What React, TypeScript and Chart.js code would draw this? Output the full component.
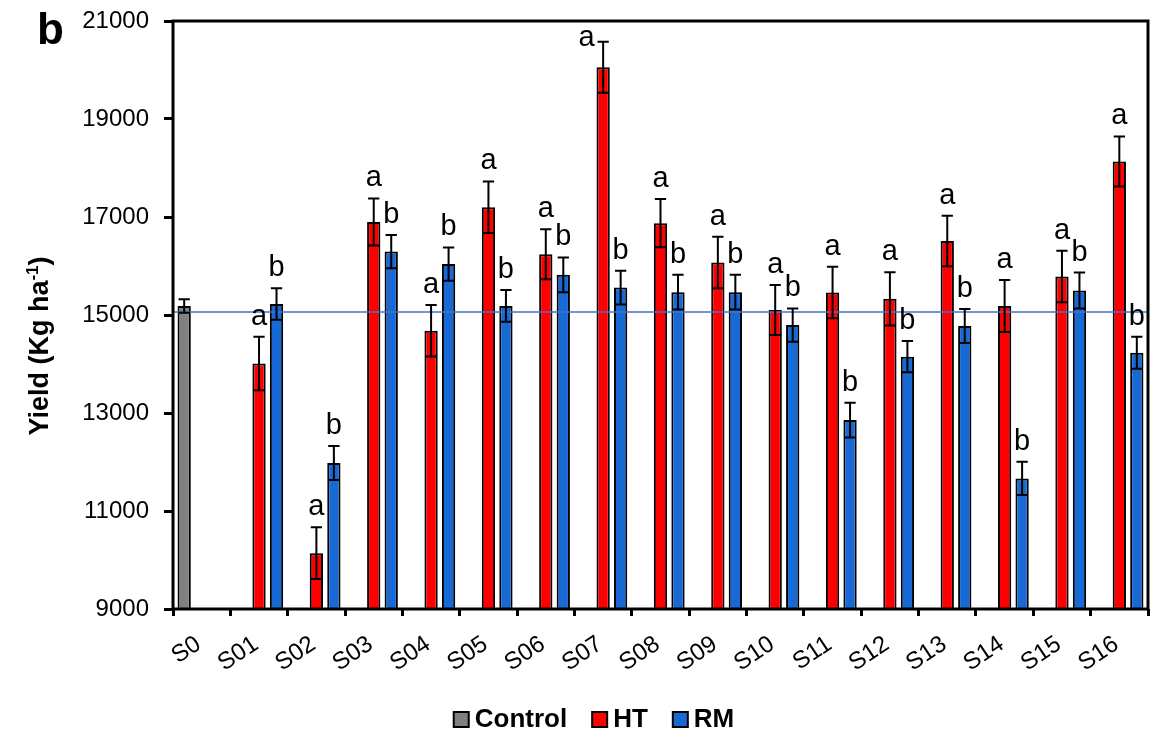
import React, { useEffect, useRef } from 'react';
import { Chart, registerables } from 'chart.js';

Chart.register(...registerables);

const FONT = '"Liberation Sans", Arial, sans-serif';

const categories = ['S0', 'S01', 'S02', 'S03', 'S04', 'S05', 'S06', 'S07', 'S08', 'S09', 'S10', 'S11', 'S12', 'S13', 'S14', 'S15', 'S16'];

const controlValues = [15185, null, null, null, null, null, null, null, null, null, null, null, null, null, null, null, null];
const controlErrors = [137, null, null, null, null, null, null, null, null, null, null, null, null, null, null, null, null];

const htValues = [null, 14010, 10140, 16900, 14680, 17200, 16240, 20055, 16875, 16070, 15100, 15460, 15330, 16510, 15185, 15785, 18135];
const htErrors = [null, 545, 530, 480, 525, 525, 510, 520, 490, 525, 510, 525, 545, 515, 530, 525, 510];
const htLetters = [null, 'a', 'a', 'a', 'a', 'a', 'a', 'a', 'a', 'a', 'a', 'a', 'a', 'a', 'a', 'a', 'a'];

const rmValues = [null, 15225, 11980, 16295, 16040, 15185, 15820, 15560, 15465, 15465, 14795, 12855, 14150, 14775, 11665, 15500, 14230];
const rmErrors = [null, 320, 345, 340, 340, 325, 355, 345, 355, 355, 340, 355, 320, 345, 340, 365, 325];
const rmLetters = [null, 'b', 'b', 'b', 'b', 'b', 'b', 'b', 'b', 'b', 'b', 'b', 'b', 'b', 'b', 'b', 'b'];

const referenceValue = 15060;

const yMin = 9000;
const yMax = 21000;
const yStep = 2000;

const seriesNames = ['Control', 'HT', 'RM'];
const seriesColors = ['#808080', '#FF0000', '#1769D6'];

const framePlugin = {
  id: 'frameAndExtras',
  afterDatasetsDraw(chart: any) {
    const { ctx, chartArea, scales } = chart;
    const y = scales.y;
    ctx.save();
    // reference line
    const ry = y.getPixelForValue(referenceValue);
    ctx.strokeStyle = '#4472C4';
    ctx.lineWidth = 1.5;
    ctx.beginPath();
    ctx.moveTo(chartArea.left, ry);
    ctx.lineTo(chartArea.right, ry);
    ctx.stroke();

    // frame
    ctx.strokeStyle = '#000';
    ctx.lineWidth = 3;
    ctx.strokeRect(chartArea.left, chartArea.top, chartArea.right - chartArea.left, chartArea.bottom - chartArea.top);

    // error bars + letters
    chart.data.datasets.forEach((ds: any, i: number) => {
      const meta = chart.getDatasetMeta(i);
      meta.data.forEach((bar: any, j: number) => {
        const v = ds.data[j];
        const e = ds.errors ? ds.errors[j] : null;
        if (v == null || e == null) return;
        const x = bar.x;
        const w = bar.width;
        const yTop = y.getPixelForValue(v + e);
        const yBot = y.getPixelForValue(v - e);
        const half = w / 2 - 1;
        ctx.strokeStyle = '#000';
        ctx.lineWidth = 2;
        ctx.beginPath();
        ctx.moveTo(x, yTop);
        ctx.lineTo(x, yBot);
        ctx.moveTo(x - half, yTop);
        ctx.lineTo(x + half, yTop);
        ctx.moveTo(x - half, yBot);
        ctx.lineTo(x + half, yBot);
        ctx.stroke();
        const letter = ds.letters ? ds.letters[j] : null;
        if (letter) {
          ctx.font = `29px ${FONT}`;
          ctx.fillStyle = '#000';
          ctx.textAlign = 'center';
          ctx.textBaseline = 'alphabetic';
          let lx = x;
          let ly = yTop - 12;
          if (ly - 17 < chartArea.top) {
            lx = x - w / 2 - 10;
            ly = yTop + 4;
          }
          ctx.fillText(letter, lx, ly);
        }
      });
    });
    ctx.restore();
  },
  afterDraw(chart: any) {
    const { ctx } = chart;
    ctx.save();
    // panel letter
    ctx.fillStyle = '#000';
    ctx.font = `bold 44px ${FONT}`;
    ctx.textAlign = 'left';
    ctx.textBaseline = 'alphabetic';
    ctx.fillText('b', 37, 44);

    // y axis title with superscript
    ctx.translate(41, 346);
    ctx.rotate(-Math.PI / 2);
    const mainFont = `bold 27px ${FONT}`;
    const supFont = `bold 17px ${FONT}`;
    ctx.font = mainFont;
    const p1 = 'Yield (Kg ha';
    const p3 = ')';
    const w1 = ctx.measureText(p1).width;
    const w3 = ctx.measureText(p3).width;
    ctx.font = supFont;
    const p2 = '-1';
    const w2 = ctx.measureText(p2).width;
    const total = w1 + w2 + w3;
    let cx = -total / 2;
    ctx.textBaseline = 'middle';
    ctx.font = mainFont;
    ctx.fillText(p1, cx, 0);
    cx += w1;
    ctx.font = supFont;
    ctx.fillText(p2, cx, -8);
    cx += w2;
    ctx.font = mainFont;
    ctx.fillText(p3, cx, 0);
    ctx.setTransform(1, 0, 0, 1, 0, 0);

    // legend
    const legendFont = `bold 26px ${FONT}`;
    ctx.font = legendFont;
    const box = 15;
    const boxGap = 6;
    const itemGap = 25;
    const items = chart.data.datasets.map((ds: any) => ({
      label: ds.label,
      color: ds.backgroundColor,
      tw: ctx.measureText(ds.label).width,
    }));
    const totalW = items.reduce((s: number, it: any) => s + box + boxGap + it.tw, 0) + itemGap * (items.length - 1);
    let lx = 594 - totalW / 2;
    const baseY = 727;
    items.forEach((it: any) => {
      ctx.fillStyle = it.color;
      ctx.fillRect(lx, baseY - box, box, box);
      ctx.strokeStyle = '#000';
      ctx.lineWidth = 2;
      ctx.strokeRect(lx, baseY - box, box, box);
      ctx.fillStyle = '#000';
      ctx.textAlign = 'left';
      ctx.textBaseline = 'alphabetic';
      ctx.fillText(it.label, lx + box + boxGap, baseY);
      lx += box + boxGap + it.tw + itemGap;
    });
    ctx.restore();
  },
};

export default function App() {
  const canvasRef = useRef<HTMLCanvasElement | null>(null);

  useEffect(() => {
    if (!canvasRef.current) return;
    const datasets: any[] = [
      { label: seriesNames[0], data: controlValues, errors: controlErrors, letters: null },
      { label: seriesNames[1], data: htValues, errors: htErrors, letters: htLetters },
      { label: seriesNames[2], data: rmValues, errors: rmErrors, letters: rmLetters },
    ].map((d, i) => ({
      ...d,
      backgroundColor: seriesColors[i],
      borderColor: '#000',
      borderWidth: 2,
      categoryPercentage: 0.915,
      barPercentage: 0.76,
    }));

    const chart = new Chart(canvasRef.current, {
      type: 'bar',
      data: { labels: categories, datasets },
      options: {
        responsive: false,
        animation: false,
        devicePixelRatio: 1,
        layout: { padding: { top: 21, right: 5, bottom: 51, left: 0 } },
        plugins: {
          legend: { display: false },
          tooltip: { enabled: false },
          title: { display: false },
        },
        scales: {
          x: {
            grid: {
              display: true,
              drawOnChartArea: false,
              drawTicks: true,
              tickLength: 7,
              color: '#000',
              lineWidth: 3,
              offset: true,
            },
            border: { display: false },
            ticks: {
              color: '#000',
              font: { family: FONT, size: 24 },
              maxRotation: 34,
              minRotation: 34,
              autoSkip: false,
              padding: 14,
              labelOffset: -3,
            },
            afterFit: (scale: any) => {
              scale.height = 70;
              scale.paddingLeft = 0;
              scale.paddingRight = 0;
            },
          },
          y: {
            min: yMin,
            max: yMax,
            grid: {
              display: true,
              drawOnChartArea: false,
              drawTicks: true,
              tickLength: 9,
              color: '#000',
              lineWidth: 3,
            },
            border: { display: false },
            ticks: {
              stepSize: yStep,
              color: '#000',
              font: { family: FONT, size: 24 },
              padding: 15,
              callback: (v: any) => String(v),
            },
            afterFit: (scale: any) => {
              scale.width = 173;
              scale.paddingTop = 0;
              scale.paddingBottom = 0;
            },
          },
        },
      },
      plugins: [framePlugin],
    } as any);

    return () => {
      chart.destroy();
    };
  }, []);

  return (
    <div style={{ position: 'absolute', left: 0, top: 0, width: 1153, height: 730, background: '#fff' }}>
      <canvas ref={canvasRef} width={1153} height={730} />
    </div>
  );
}
